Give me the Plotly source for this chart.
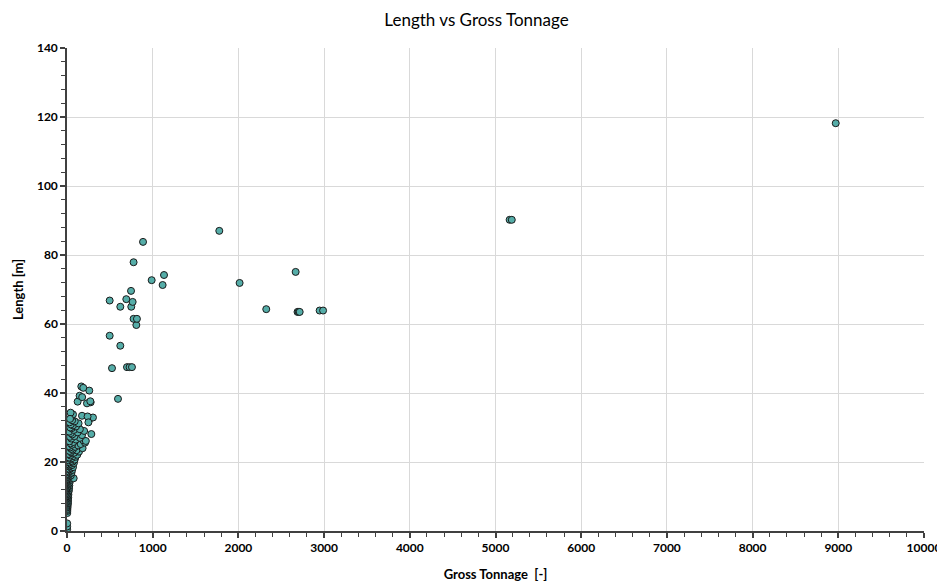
import plotly.graph_objects as go

# Gross tonnage [-] and length [m]
gross_tonnage = [
    2, 2, 2,
    3, 4, 2, 5, 3, 6, 4, 8, 5, 10, 7, 3, 12, 6, 9, 4, 14, 8,
    11, 5, 16, 9, 13, 7, 18, 10, 21, 6, 15, 24, 12, 8, 19, 27, 14, 9, 22, 30, 17, 11, 25, 35, 20,
    13, 40, 28, 78, 18, 33, 45, 23, 15, 38, 52, 27, 20, 44, 60, 32, 17, 50, 70, 25, 37, 57, 22, 42, 80, 30,
    65, 48, 19, 90, 35, 55, 26, 100, 72, 40, 120, 23, 60, 85, 45, 140, 30, 110, 68, 50, 182, 36, 95, 20, 130,
    58, 160, 42, 210, 75, 28, 190, 105, 220, 50, 150, 35, 88, 175, 62, 284, 45, 125, 25, 200, 80, 150, 55, 38,
    105, 70, 45, 135, 30, 90, 60, 264, 303, 175, 50, 70, 42, 35, 240, 250,
    124, 276, 233, 147, 177, 272, 167, 260, 190,
    595, 525, 700, 730, 758, 498, 622, 809, 777, 816, 622, 750, 498, 692, 766, 747,
    988, 1116, 1132, 777, 887,
    1777, 2014, 2325, 2668, 2690, 2703, 2715, 2948, 2988,
    5165, 5190, 8970,
]
length_m = [
    0.5, 1.3, 2.2,
    5.2, 5.8, 6.1, 6.4, 6.8, 7.0, 7.3, 7.6, 7.9, 8.1, 8.4, 8.6, 8.8, 9.0, 9.3, 9.5, 9.7, 9.9,
    10.1, 10.3, 10.5, 10.7, 10.9, 11.2, 11.4, 11.6, 11.8, 12.0, 12.2, 12.4, 12.6, 12.8, 13.0, 13.2, 13.4, 13.6, 13.8, 14.0, 14.2, 14.4, 14.6, 14.8, 15.0,
    15.2, 15.3, 15.5, 15.3, 15.7, 15.9, 16.1, 16.3, 16.5, 16.7, 16.9, 17.1, 17.3, 17.5, 17.7, 17.9, 18.1, 18.3, 18.5, 18.7, 18.9, 19.1, 19.3, 19.5, 19.7, 19.9,
    20.1, 20.3, 20.5, 20.7, 20.9, 21.1, 21.3, 21.5, 21.7, 21.9, 22.1, 22.3, 22.5, 22.7, 22.9, 23.0, 23.2, 23.4, 23.6, 23.8, 24.0, 24.2, 24.4, 24.6, 24.8,
    25.0, 25.2, 25.4, 25.6, 25.8, 26.0, 26.3, 26.5, 26.1, 26.8, 27.0, 27.3, 27.5, 27.8, 28.0, 28.1, 28.4, 28.6, 28.8, 29.0, 29.3, 29.5, 29.8, 30.0,
    30.3, 30.6, 30.9, 31.2, 31.5, 31.8, 32.1, 32.5, 32.9, 33.4, 33.0, 33.8, 34.3, 32.5, 33.2, 31.5,
    37.5, 37.3, 37.0, 39.2, 38.8, 37.6, 41.9, 40.7, 41.5,
    38.3, 47.2, 47.5, 47.5, 47.5, 56.6, 53.7, 59.7, 61.5, 61.5, 65.0, 65.0, 66.8, 67.2, 66.4, 69.6,
    72.7, 71.3, 74.2, 77.9, 83.8,
    87.0, 71.9, 64.3, 75.1, 63.5, 63.5, 63.5, 63.9, 63.9,
    90.2, 90.2, 118.2,
]

title_text = "Length vs Gross Tonnage"
x_title = "Gross Tonnage  [-]"
y_title = "Length [m]"

font_family = "Lato, 'Liberation Sans', sans-serif"

fig = go.Figure(
    go.Scatter(
        x=gross_tonnage,
        y=length_m,
        mode="markers",
        marker=dict(size=7, color="#55ADA8", line=dict(color="#1a1a1a", width=1)),
        hoverinfo="x+y",
    )
)

axis_common = dict(
    showline=True,
    linecolor="#404040",
    linewidth=1.5,
    ticks="outside",
    ticklen=5,
    tickcolor="#404040",
    tickwidth=1.5,
    showgrid=True,
    gridcolor="#d9d9d9",
    gridwidth=1,
    zeroline=False,
    automargin=False,
    tickformat="d",
    tickfont=dict(family=font_family, size=12, color="#000000", weight="bold"),
    title_font=dict(family=font_family, size=13, color="#000000", weight="bold"),
    mirror=False,
)

# the page body adds an 8px offset, so the figure is sized to fill the rest of the window
fig.update_layout(
    width=937,
    height=579,
    paper_bgcolor="white",
    plot_bgcolor="white",
    margin=dict(l=59, r=21, t=40, b=56, autoexpand=False),
    showlegend=False,
    title=dict(
        text=title_text,
        x=0.5,
        xanchor="center",
        y=0.979,
        yanchor="middle",
        font=dict(family=font_family, size=17, color="#000000"),
    ),
    xaxis=dict(
        range=[0, 10000],
        dtick=1000,
        tick0=0,
        title=dict(text=x_title, standoff=16),
        minor=dict(dtick=200, ticks="outside", ticklen=4, tickcolor="#404040", tickwidth=1, showgrid=False),
        **axis_common,
    ),
    yaxis=dict(
        range=[0, 140],
        dtick=20,
        tick0=0,
        title=dict(text=y_title, standoff=10),
        minor=dict(dtick=4, ticks="outside", ticklen=4, tickcolor="#404040", tickwidth=1, showgrid=False),
        **axis_common,
    ),
)

fig.write_html("out.html")
